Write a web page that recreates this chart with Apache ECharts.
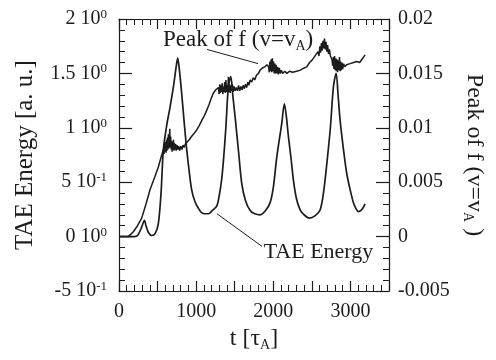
<!DOCTYPE html>
<html>
<head>
<meta charset="utf-8">
<script src="https://cdn.jsdelivr.net/npm/echarts@6/dist/echarts.min.js"></script>
<style>
  html, body { margin: 0; padding: 0; background: #fff; }
  #chart { width: 496px; height: 360px; }
</style>
</head>
<body>
<div id="chart"></div>
<script>
// TAE energy (left axis, a.u.)
const taeT = [0, 100, 200, 240, 290, 330, 350, 380, 424, 470, 510, 545, 575, 620, 662, 710, 745, 761, 780, 812,
  845, 878, 910, 942, 985, 1029, 1070, 1115, 1160, 1210, 1267, 1300, 1330, 1354, 1385, 1418, 1449, 1475, 1505, 1550,
  1591, 1640, 1700, 1760, 1829, 1900, 1958, 2000, 2045, 2080, 2110, 2144, 2170, 2196, 2230, 2261, 2300, 2348, 2400, 2469,
  2540, 2607, 2650, 2694, 2740, 2780, 2815, 2840, 2866, 2910, 2952, 3000, 3039, 3070, 3104, 3150, 3190];
const taeEnergy = [0, 0, 0, 0.01, 0.08, 0.15, 0.10, 0.04, 0.01, 0.03, 0.12, 0.40, 0.80, 1.03, 1.19, 1.40, 1.58, 1.64, 1.55, 1.32,
  1.05, 0.80, 0.60, 0.43, 0.32, 0.26, 0.22, 0.21, 0.21, 0.24, 0.28, 0.38, 0.52, 0.70, 1.00, 1.38, 1.47, 1.30, 1.10, 0.78,
  0.49, 0.33, 0.24, 0.21, 0.20, 0.24, 0.31, 0.45, 0.73, 0.90, 1.04, 1.22, 1.10, 0.92, 0.72, 0.52, 0.35, 0.245, 0.20, 0.17,
  0.19, 0.245, 0.40, 0.67, 1.00, 1.38, 1.50, 1.30, 1.07, 0.80, 0.58, 0.42, 0.31, 0.26, 0.23, 0.25, 0.30];

// Peak of f (v=vA) (right axis), noisy stretches read point by point
const peakT = [0, 120, 186, 240, 294, 350, 402, 460, 510, 545,
  575, 585, 592, 598, 604, 610, 616, 622, 628, 634,
  640, 646, 652, 658, 664, 670, 676, 682, 688, 694,
  700, 706, 712, 718, 726, 734, 742, 752, 762, 774,
  786, 800, 815, 830, 845, 860, 880, 910, 940, 975,
  1008, 1040, 1075, 1105, 1137, 1165, 1195, 1224, 1255, 1290,
  1298, 1306, 1314, 1322, 1330, 1338, 1346, 1354, 1362, 1370,
  1378, 1386, 1394, 1402, 1410, 1418, 1426, 1434, 1442, 1450,
  1460, 1470, 1480, 1492, 1505, 1520, 1535, 1550, 1565, 1580,
  1595, 1610, 1625, 1640, 1655, 1670, 1685, 1700, 1720, 1740,
  1760, 1780, 1808, 1829, 1860, 1890, 1920, 1940, 1948, 1956,
  1964, 1972, 1980, 1988, 1996, 2004, 2012, 2020, 2028, 2036,
  2046, 2056, 2066, 2078, 2090, 2105, 2120, 2150, 2175, 2210,
  2250, 2304, 2350, 2400, 2434, 2470, 2500, 2521, 2550, 2580,
  2592, 2604, 2614, 2624, 2634, 2644, 2654, 2664, 2674, 2684,
  2694, 2704, 2716, 2728, 2740, 2760, 2770, 2778, 2786, 2794,
  2802, 2810, 2818, 2826, 2834, 2842, 2850, 2858, 2866, 2874,
  2882, 2890, 2900, 2912, 2925, 2950, 2996, 3040, 3082, 3120,
  3150, 3170, 3190];
const peakF = [0, 0, 0.00045, 0.0010, 0.0017, 0.0030, 0.0043, 0.0054, 0.0064, 0.0073,
  0.0080, 0.0076, 0.0086, 0.0078, 0.0087, 0.0077, 0.0089, 0.0079, 0.0091, 0.0080,
  0.0094, 0.0081, 0.0090, 0.0099, 0.0082, 0.0092, 0.0080, 0.0088, 0.0078, 0.0087,
  0.0080, 0.0089, 0.0079, 0.0086, 0.0080, 0.0085, 0.0079, 0.0084, 0.0080, 0.0083,
  0.0079, 0.0083, 0.0080, 0.0084, 0.0082, 0.0085, 0.0086, 0.0089, 0.0092, 0.0095,
  0.0098, 0.0102, 0.0107, 0.0111, 0.0116, 0.0121, 0.0127, 0.0132, 0.0135, 0.0137,
  0.0131, 0.0140, 0.0132, 0.0139, 0.0133, 0.0141, 0.0131, 0.0138, 0.0133, 0.0142,
  0.0132, 0.0144, 0.0133, 0.0139, 0.0132, 0.0147, 0.0133, 0.0140, 0.0132, 0.0139,
  0.0134, 0.0140, 0.0133, 0.0138, 0.0134, 0.0137, 0.0134, 0.0139, 0.0134, 0.0138,
  0.0135, 0.0139, 0.0136, 0.0140, 0.0137, 0.0142, 0.0139, 0.0144, 0.0142, 0.0146,
  0.0144, 0.0148, 0.0150, 0.0153, 0.0155, 0.0156, 0.0158, 0.0156, 0.0151, 0.0161,
  0.0152, 0.0163, 0.0151, 0.0164, 0.0152, 0.0161, 0.0150, 0.0159, 0.0150, 0.0158,
  0.0150, 0.0156, 0.0149, 0.0155, 0.0150, 0.0153, 0.0150, 0.0152, 0.0150, 0.0152,
  0.0151, 0.0152, 0.0153, 0.0155, 0.0156, 0.0160, 0.0162, 0.0164, 0.0167, 0.0170,
  0.0166, 0.0175, 0.0169, 0.0178, 0.0171, 0.0180, 0.0173, 0.0182, 0.0172, 0.0179,
  0.0170, 0.0176, 0.0168, 0.0172, 0.0166, 0.0163, 0.0157, 0.0165, 0.0154, 0.0166,
  0.0153, 0.0164, 0.0152, 0.0163, 0.0151, 0.0162, 0.0153, 0.0165, 0.0152, 0.0161,
  0.0153, 0.0160, 0.0154, 0.0159, 0.0156, 0.0158, 0.0159, 0.0160, 0.0161, 0.0160,
  0.0163, 0.0165, 0.0167];

// tick labels
const leftTicks = [-0.5, 0, 0.5, 1, 1.5, 2];
const leftMant = ['-5', '0', '5', '1', '1.5', '2'];
const leftExp = ['-1', '0', '-1', '0', '0', '0'];
const rightTicks = [-0.005, 0, 0.005, 0.01, 0.015, 0.02];
const rightLabels = ['-0.005', '0', '0.005', '0.01', '0.015', '0.02'];
const xTicks = [0, 1000, 2000, 3000];

const FONT = 'Liberation Serif';
const INK = '#1c1c1c';

const chart = echarts.init(document.getElementById('chart'), null, { renderer: 'canvas' });

// frame line, no jumping to the zero of the other axis
const frameLine = { show: true, onZero: false, lineStyle: { color: INK, width: 1.2 } };
function tickStyle(len) {
  return { show: true, inside: true, length: len, lineStyle: { color: INK, width: 1.2 } };
}
function minorStyle() {
  return { show: true, splitNumber: 5, length: 6, lineStyle: { color: INK, width: 1 } };
}
const subStyle = { fontFamily: FONT, fontSize: 14, color: INK, verticalAlign: 'bottom', padding: [13, 0, 0, 0] };

const option = {
  backgroundColor: '#fff',
  animation: false,
  grid: { left: 119, right: 107, top: 19, bottom: 69 },
  xAxis: [
    {
      type: 'value', position: 'bottom', min: 0, max: 3500, interval: 500,
      name: 't [τ{sub|A}]', nameLocation: 'middle', nameGap: 33,
      nameTextStyle: { color: INK, fontFamily: FONT, fontSize: 24, rich: { sub: subStyle } },
      axisLine: frameLine,
      axisTick: tickStyle(10),
      minorTick: minorStyle(),
      splitLine: { show: false },
      axisLabel: {
        color: INK, fontFamily: FONT, fontSize: 20, margin: 11,
        formatter: v => (xTicks.indexOf(Math.round(v)) >= 0 ? String(Math.round(v)) : '')
      }
    },
    {
      type: 'value', position: 'top', min: 0, max: 3500, interval: 500,
      axisLine: frameLine,
      axisTick: tickStyle(10),
      minorTick: minorStyle(),
      splitLine: { show: false },
      axisLabel: { show: false }
    }
  ],
  yAxis: [
    {
      type: 'value', position: 'left', min: -0.5, max: 2, interval: 0.5,
      name: 'TAE Energy [a. u.]', nameLocation: 'middle', nameGap: 81,
      nameTextStyle: { color: INK, fontFamily: FONT, fontSize: 25 },
      axisLine: frameLine,
      axisTick: tickStyle(13),
      minorTick: minorStyle(),
      splitLine: { show: false },
      axisLabel: {
        margin: 12,
        formatter: v => {
          const i = leftTicks.findIndex(t => Math.abs(t - v) < 1e-9);
          return i < 0 ? '' : '{m|' + leftMant[i] + ' 10}{e|' + leftExp[i] + '}';
        },
        rich: {
          m: { fontFamily: FONT, fontSize: 20, color: INK },
          e: { fontFamily: FONT, fontSize: 13, color: INK, verticalAlign: 'top', padding: [0, 0, 9, 0] }
        }
      }
    },
    {
      type: 'value', position: 'right', min: -0.005, max: 0.02, interval: 0.005,
      name: 'Peak of f (v=v{sub|A} )', nameLocation: 'middle', nameGap: 72, nameRotate: -90,
      nameTextStyle: { color: INK, fontFamily: FONT, fontSize: 24, rich: { sub: subStyle } },
      axisLine: frameLine,
      axisTick: tickStyle(13),
      minorTick: minorStyle(),
      splitLine: { show: false },
      axisLabel: {
        color: INK, fontFamily: FONT, fontSize: 20, margin: 9,
        formatter: v => {
          const i = rightTicks.findIndex(t => Math.abs(t - v) < 1e-9);
          return i < 0 ? '' : rightLabels[i];
        }
      }
    }
  ],
  series: [
    {
      name: 'TAE Energy', type: 'line', xAxisIndex: 0, yAxisIndex: 0,
      data: taeT.map((t, i) => [t, taeEnergy[i]]),
      showSymbol: false, smooth: 0.3,
      lineStyle: { color: INK, width: 1.7 }
    },
    {
      name: 'Peak of f', type: 'line', xAxisIndex: 0, yAxisIndex: 1,
      data: peakT.map((t, i) => [t, peakF[i]]),
      showSymbol: false,
      lineStyle: { color: INK, width: 1.5 }
    }
  ]
};

chart.setOption(option);

// annotation anchors in data coordinates (t, left-axis value)
const px = p => chart.convertToPixel({ xAxisIndex: 0, yAxisIndex: 0 }, p);
const peakLineA = px([1141, 1.72]), peakLineB = px([1802, 1.59]);
const peakText = px([570, 1.81]);
const taeLineA = px([1270, 0.21]), taeLineB = px([1854, -0.09]);
const taeText = px([1875, -0.14]);

chart.setOption({
  graphic: [
    { type: 'line', shape: { x1: peakLineA[0], y1: peakLineA[1], x2: peakLineB[0], y2: peakLineB[1] }, style: { stroke: INK, lineWidth: 1 } },
    { type: 'line', shape: { x1: taeLineA[0], y1: taeLineA[1], x2: taeLineB[0], y2: taeLineB[1] }, style: { stroke: INK, lineWidth: 1 } },
    {
      type: 'text', x: peakText[0], y: peakText[1],
      style: {
        text: 'Peak of f (v=v{sub|A})', fontFamily: FONT, fontSize: 23, fill: INK, verticalAlign: 'middle',
        rich: { sub: { fontFamily: FONT, fontSize: 14, fill: INK, verticalAlign: 'bottom', padding: [13, 0, 0, 0] } }
      }
    },
    {
      type: 'text', x: taeText[0], y: taeText[1],
      style: { text: 'TAE Energy', fontFamily: FONT, fontSize: 22, fill: INK, verticalAlign: 'middle' }
    }
  ]
});
</script>
</body>
</html>
